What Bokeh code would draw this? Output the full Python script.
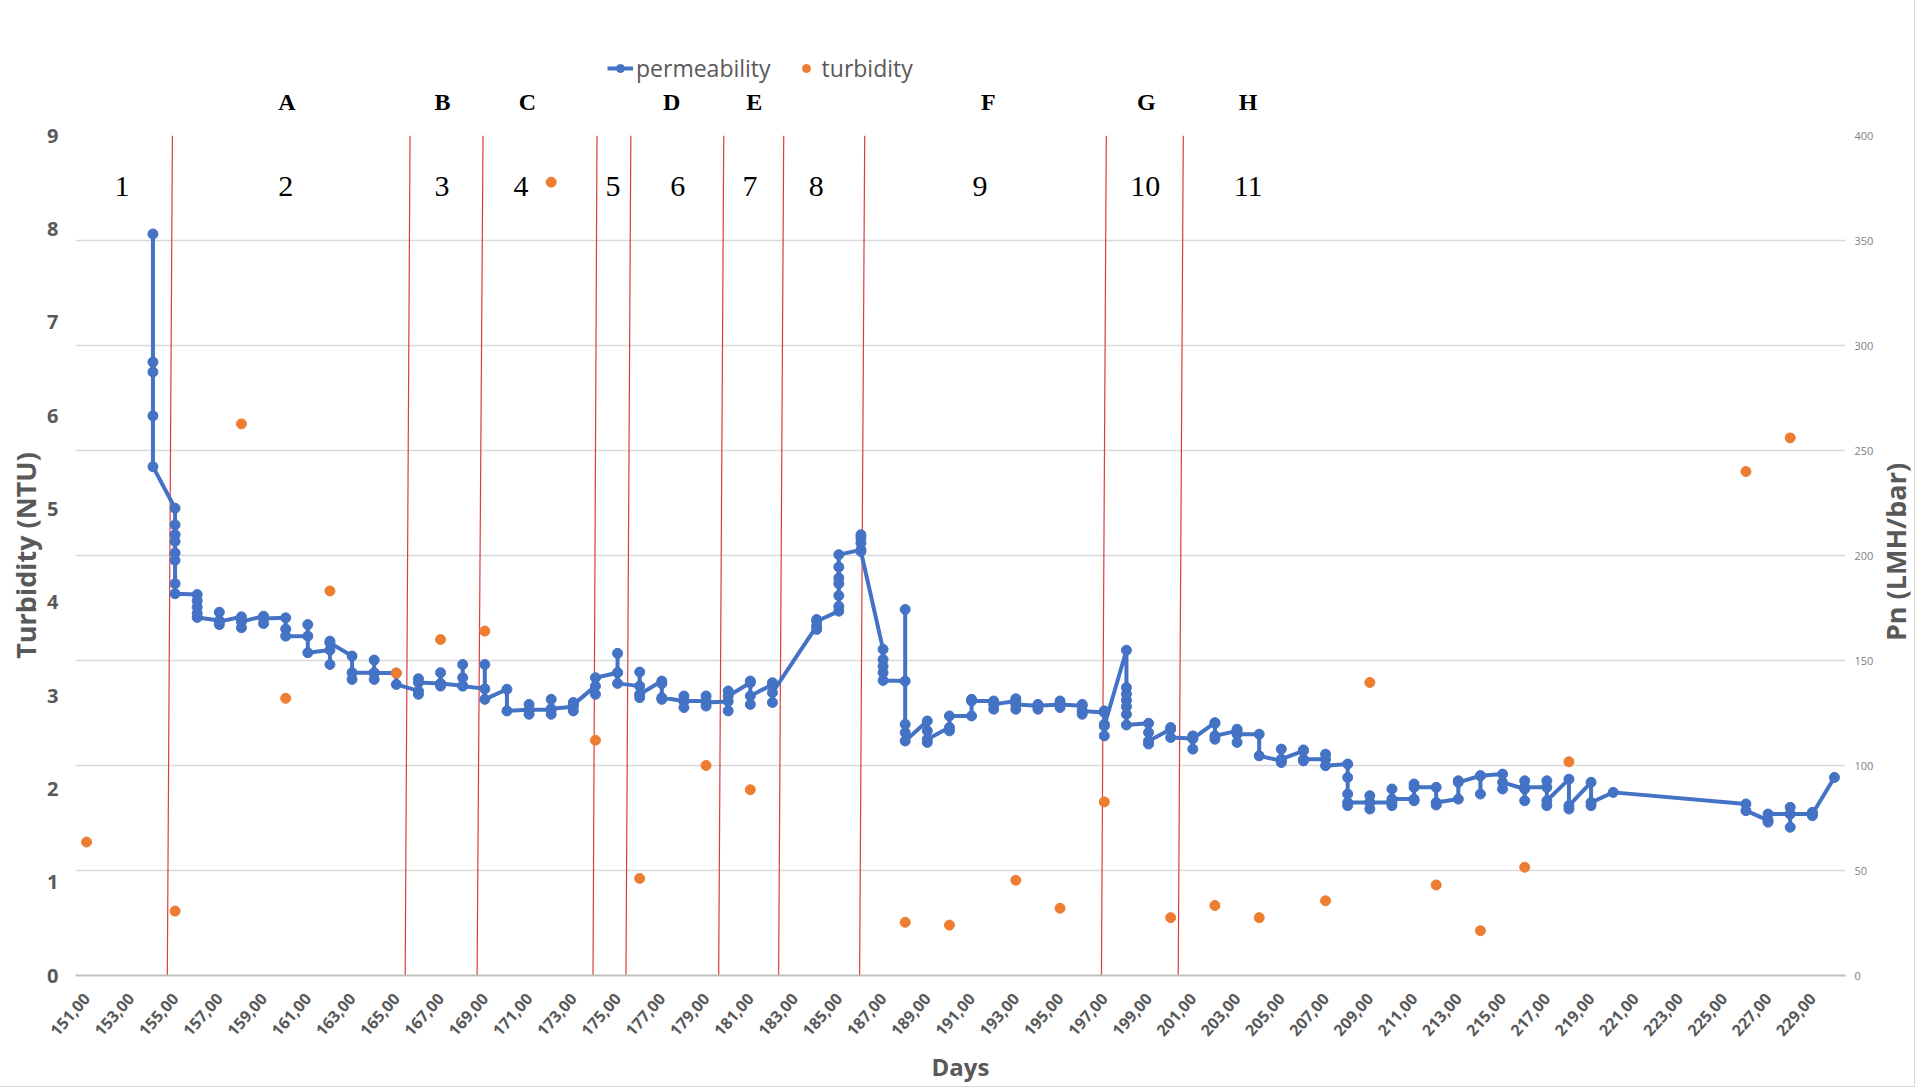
import math
from bokeh.plotting import figure
from bokeh.models import (Range1d, LinearAxis, FixedTicker, Grid, Legend, LegendItem)
from bokeh.core.properties import value
from bokeh.layouts import column, row
from bokeh.embed import file_html
from bokeh.resources import INLINE

# ---------------- data ----------------
# turbidity (left axis, NTU)
turb_days = [151, 155, 158, 160, 162, 165, 167, 169, 172, 174, 176, 179, 181, 188, 190,
             193, 195, 197, 200, 202, 204, 207, 209, 212, 214, 216, 218, 226, 228]
turb_values = [1.43, 0.69, 5.91, 2.97, 4.12, 3.24, 3.60, 3.69, 8.50, 2.52, 1.04, 2.25, 1.99, 0.57, 0.54,
               1.02, 0.72, 1.86, 0.62, 0.75, 0.62, 0.80, 3.14, 0.97, 0.48, 1.16, 2.29, 5.40, 5.76]

# permeability (right axis, LMH/bar) - several readings per day, in measuring order
perm_days = [154, 155, 156, 157, 158, 159, 160, 161, 162, 163, 164, 165, 166, 167, 168, 169,
             170, 171, 172, 173, 174, 175, 176, 177, 178, 179, 180, 181, 182, 184, 185, 186,
             187, 188, 189, 190, 191, 192, 193, 194, 195, 196, 197, 198, 199, 200, 201, 202,
             203, 204, 205, 206, 207, 208, 209, 210, 211, 212, 213, 214, 215, 216, 217, 218,
             219, 220, 226, 227, 228, 229, 230]
perm_readings = [
    [353.1, 292.1, 287.4, 266.5, 242.3],
    [222.5, 214.6, 209.9, 206.7, 201.2, 197.7, 186.6, 181.8],
    [181.4, 178.5, 175.5, 172.5, 170.5],
    [169.0, 173.0, 167.1, 168.5],
    [170.8, 165.6, 168.5],
    [171.1, 167.6, 170.0],
    [170.3, 165.0, 161.6],
    [161.6, 167.1, 153.7],
    [155.0, 159.2, 148.1, 158.4],
    [152.1, 141.0, 144.2],
    [144.2, 150.2, 141.0, 144.0],
    [144.0, 138.6],
    [135.5, 141.3, 133.9, 139.5],
    [139.0, 144.2, 137.8, 139.0],
    [138.0, 148.1, 141.8, 137.8],
    [136.5, 148.1, 131.5],
    [136.3, 126.0],
    [126.5, 129.1, 124.4, 126.5],
    [126.5, 131.5, 124.4, 127.0],
    [128.0, 130.0, 126.0, 129.0],
    [137.8, 133.9, 141.8],
    [144.2, 153.4, 144.2, 139.1],
    [137.8, 144.5, 132.3, 133.9],
    [140.2, 139.0, 131.5, 132.3],
    [130.7, 133.1, 127.6, 130.7],
    [130.7, 133.1, 128.3, 130.0],
    [130.5, 135.5, 126.0, 133.1],
    [139.4, 140.2, 129.1, 133.1],
    [138.6, 139.4, 130.0, 134.7],
    [166.4, 169.5, 164.8, 168.7],
    [173.5, 175.8, 180.9, 186.6, 189.3, 194.5, 200.4],
    [202.7, 209.9, 208.3, 205.9, 201.9],
    [155.3, 150.5, 147.3, 144.2, 140.5],
    [140.2, 174.3, 119.6, 115.7, 111.7],
    [121.2, 116.5, 111.0, 112.5],
    [118.1, 116.5, 123.6],
    [123.6, 131.5, 130.7],
    [130.7, 126.8, 129.1],
    [130.7, 131.8, 126.8, 129.1],
    [128.4, 126.8, 129.1, 128.4],
    [129.1, 130.7, 127.6, 129.1],
    [128.4, 129.1, 124.4, 126.0],
    [125.2, 126.0, 119.6, 114.1, 118.8],
    [154.9, 137.1, 134.0, 131.0, 128.0, 124.4, 119.3],
    [120.1, 115.7, 110.2, 111.7],
    [117.3, 118.1, 113.3],
    [112.8, 114.1, 107.8, 112.8],
    [120.4, 120.1, 112.5, 114.1],
    [116.5, 117.3, 111.0, 114.9],
    [114.9, 104.6],
    [102.2, 107.8, 101.4, 103.0],
    [107.0, 107.4, 102.2, 103.0],
    [103.0, 105.4, 99.9],
    [100.7, 94.3, 86.4, 80.9, 82.4],
    [82.4, 85.6, 79.3, 82.4],
    [82.4, 88.8, 80.9, 84.0],
    [84.0, 83.2, 91.2, 89.6],
    [89.6, 81.2, 82.4],
    [84.0, 92.7, 92.0],
    [95.1, 86.4, 95.1],
    [95.9, 88.8, 92.0],
    [88.8, 92.7, 83.2, 89.6],
    [89.6, 92.7, 80.9, 83.2],
    [93.5, 79.3, 80.9],
    [92.0, 80.9, 82.4],
    [87.2],
    [81.7, 78.5],
    [73.9, 73.0, 76.9],
    [76.9, 80.1, 70.6, 76.9],
    [76.9, 77.7, 76.1, 76.9],
    [94.3],
]

# period boundaries (hand-drawn red lines, day at bottom / top of plot)
boundary_bottom = [154.65, 165.40, 168.65, 173.89, 175.38, 179.57, 182.28, 185.94, 196.87, 200.34]
boundary_top = [154.88, 165.62, 168.92, 174.07, 175.60, 179.80, 182.51, 186.17, 197.09, 200.57]

zone_numbers = ["1", "2", "3", "4", "5", "6", "7", "8", "9", "10", "11"]
zone_number_x = [152.6, 160.0, 167.07, 170.64, 174.79, 177.72, 180.99, 183.98, 191.38, 198.85, 203.5]
zone_letters = ["A", "B", "C", "D", "E", "F", "G", "H"]
zone_letter_x = [160.05, 167.07, 170.9, 177.41, 181.14, 191.71, 198.85, 203.44]

x_ticks = list(range(151, 230, 2))
x_tick_labels = ["%d,00" % d for d in x_ticks]
left_ticks = [0, 1, 2, 3, 4, 5, 6, 7, 8, 9]
right_ticks = [0, 50, 100, 150, 200, 250, 300, 350, 400]

# flatten permeability readings
perm_x, perm_y = [], []
for d, vals in zip(perm_days, perm_readings):
    for v in vals:
        perm_x.append(d)
        perm_y.append(v)

GRAY = "#595959"
BLUE = "#4472C4"
ORANGE = "#ED7D31"
FRAME_W = 1772
FRAME_H = 842
LEFT_B = 75
RIGHT_B = 29
TOP_B = 15
BOTTOM_B = 109
MAIN_W = LEFT_B + FRAME_W + RIGHT_B
MAIN_H = TOP_B + FRAME_H + BOTTOM_B
RIGHT_W = 38
TOP_H = 120

x_range = Range1d(150.5, 230.5)

# ---------------- main plot ----------------
p = figure(width=MAIN_W, height=MAIN_H, x_range=x_range, y_range=Range1d(0, 9),
           output_backend="svg", toolbar_location=None,
           min_border_left=LEFT_B, min_border_right=RIGHT_B, min_border_top=TOP_B,
           min_border_bottom=BOTTOM_B)
p.extra_y_ranges = {"pn": Range1d(0, 400)}
p.outline_line_color = None

p.xgrid.visible = False
p.ygrid.visible = False
grid = Grid(dimension=1, ticker=FixedTicker(ticks=right_ticks), y_range_name="pn",
            grid_line_color="#d9d9d9", grid_line_width=1.5)
p.add_layout(grid)

xa = p.xaxis[0]
xa.ticker = FixedTicker(ticks=x_ticks)
xa.major_label_overrides = {t: l for t, l in zip(x_ticks, x_tick_labels)}
xa.major_label_orientation = 0.85
xa.major_label_text_font = "Open Sans"
xa.major_label_text_font_style = "bold"
xa.major_label_text_font_size = "16px"
xa.major_label_text_color = GRAY
xa.major_label_standoff = 20
xa.major_tick_line_color = None
xa.minor_tick_line_color = None
xa.major_tick_out = 0
xa.major_tick_in = 0
xa.minor_tick_out = 0
xa.axis_line_color = "#bfbfbf"
xa.axis_line_width = 2
xa.axis_label = "Days"
xa.axis_label_text_font = "Open Sans"
xa.axis_label_text_font_style = "bold"
xa.axis_label_text_font_size = "24px"
xa.axis_label_text_color = GRAY
xa.axis_label_standoff = 6

ya = p.yaxis[0]
ya.ticker = FixedTicker(ticks=left_ticks)
ya.major_label_text_font = "Open Sans"
ya.major_label_text_font_style = "bold"
ya.major_label_text_font_size = "20px"
ya.major_label_text_color = GRAY
ya.major_label_standoff = 17
ya.major_tick_line_color = None
ya.minor_tick_line_color = None
ya.major_tick_out = 0
ya.major_tick_in = 0
ya.minor_tick_out = 0
ya.axis_line_color = None
ya.axis_label = "Turbidity (NTU)"
ya.axis_label_text_font = "Open Sans"
ya.axis_label_text_font_style = "bold"
ya.axis_label_text_font_size = "27px"
ya.axis_label_text_color = GRAY
ya.axis_label_standoff = 0

ra = LinearAxis(y_range_name="pn", ticker=FixedTicker(ticks=right_ticks))
ra.major_label_text_font = "Open Sans"
ra.major_label_text_font_size = "11px"
ra.major_label_text_color = "#7f7f7f"
ra.major_label_standoff = 9
ra.major_tick_line_color = None
ra.minor_tick_line_color = None
ra.major_tick_out = 0
ra.major_tick_in = 0
ra.minor_tick_out = 0
ra.axis_line_color = None
p.add_layout(ra, "right")

p.segment(x0=boundary_bottom, y0=[0] * len(boundary_bottom), x1=boundary_top,
          y1=[9] * len(boundary_top), line_color="#e03c3c", line_width=1.2)

perm_line = p.line(perm_x, perm_y, y_range_name="pn", line_color=BLUE, line_width=4)
perm_pts = p.scatter(perm_x, perm_y, y_range_name="pn", size=10, fill_color=BLUE, line_color=BLUE)
turb_pts = p.scatter(turb_days, turb_values, size=10, fill_color=ORANGE, line_color=ORANGE)

p.text(x=zone_number_x, y=[8.45] * len(zone_number_x), text=zone_numbers,
       text_font=value("Liberation Serif"), text_font_size="30px", text_color="black",
       text_align="center", text_baseline="middle")

# ---------------- strip above the plot: letters + legend ----------------
top = figure(width=MAIN_W + RIGHT_W, height=TOP_H, x_range=x_range, y_range=Range1d(0, TOP_H),
             output_backend="svg", toolbar_location=None,
             x_axis_location=None, y_axis_location=None,
             min_border_left=LEFT_B, min_border_right=RIGHT_B + RIGHT_W,
             min_border_top=0, min_border_bottom=0)
top.outline_line_color = None
top.grid.visible = False
top.text(x=zone_letter_x, y=[19] * len(zone_letter_x), text=zone_letters,
         text_font=value("Liberation Serif"), text_font_style="bold", text_font_size="24px",
         text_color="black", text_align="center", text_baseline="middle")

leg_line = top.line([0], [0], line_color=BLUE, line_width=4, visible=False)
leg_pt = top.scatter([0], [0], size=10, fill_color=BLUE, line_color=BLUE, visible=False)
leg_turb = top.scatter([0], [0], size=10, fill_color=ORANGE, line_color=ORANGE, visible=False)
legend = Legend(items=[LegendItem(label="permeability", renderers=[leg_line, leg_pt]),
                       LegendItem(label="turbidity", renderers=[leg_turb])],
                location=(532, 36), orientation="horizontal",
                label_text_font="Open Sans", label_text_font_size="23px", label_text_color=GRAY,
                glyph_width=26, label_standoff=3, spacing=22, padding=0, margin=0,
                border_line_color=None, background_fill_alpha=0)
top.add_layout(legend)

# ---------------- right axis title ----------------
rt = figure(width=RIGHT_W, height=MAIN_H, x_range=Range1d(0, RIGHT_W), y_range=Range1d(MAIN_H, 0),
            output_backend="svg", toolbar_location=None,
            x_axis_location=None, y_axis_location=None, min_border=0)
rt.outline_line_color = None
rt.grid.visible = False
rt.text(x=[19], y=[479], text=["Pn (LMH/bar)"], angle=math.pi / 2,
        text_font=value("Open Sans"), text_font_style="bold", text_font_size="27px",
        text_color=GRAY, text_align="center", text_baseline="middle")

layout = column(top, row(p, rt), styles={"outline": "1px solid #d9d9d9"})

open("out.html", "w").write(file_html(layout, INLINE))
